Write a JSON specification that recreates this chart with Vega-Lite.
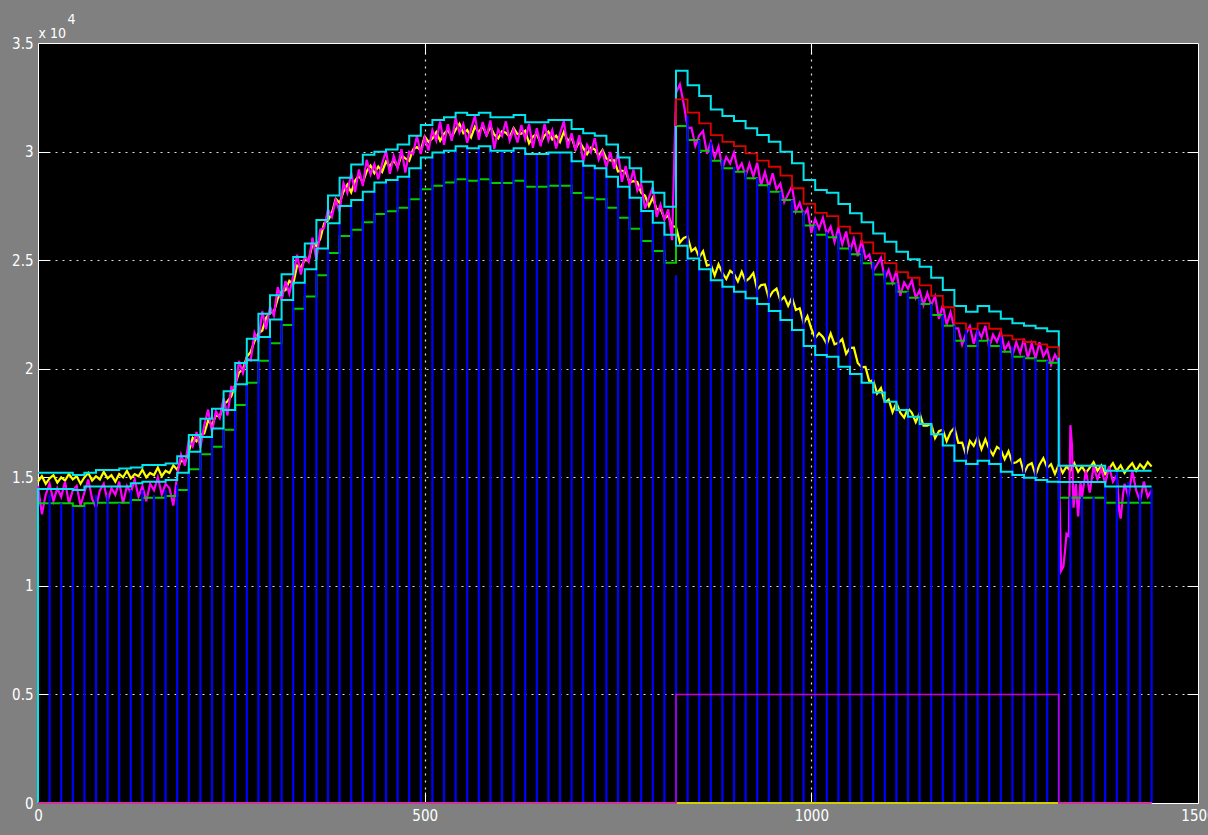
{
"$schema":"https://vega.github.io/schema/vega-lite/v6.json",
"width":1160,"height":760,
"autosize":{"type":"none"},
"padding":{"left":38,"top":43,"right":10,"bottom":32},
"background":"#808080",
"config":{"view":{"fill":"#000000","stroke":"#ffffff","strokeWidth":1},
"axis":{"labelFont":"'Liberation Sans Narrow','DejaVu Sans Condensed',sans-serif","labelFontSize":15,"labelColor":"#ffffff","titleFont":"'Liberation Sans Narrow','DejaVu Sans Condensed',sans-serif","titleFontSize":14,"titleFontWeight":"normal","titleColor":"#ffffff","tickColor":"#ffffff","gridColor":"#e0e0e0","gridDash":[2,5],"gridWidth":1.2}},
"resolve":{"axis":{"x":"independent","y":"independent"}},
"datasets":{
"steps":[
{"i":0,"t":0,"cl":0},
{"i":1,"t":0,"cu":15210,"cl":14460,"g":13800},
{"i":2,"t":15,"cu":15210,"cl":14460,"g":13800,"b":14215},
{"i":3,"t":30,"cu":15210,"cl":14460,"g":13800,"b":13800},
{"i":4,"t":45,"cu":15100,"cl":14410,"g":13680,"b":13645},
{"i":5,"t":60,"cu":15210,"cl":14570,"g":13800,"b":13645},
{"i":6,"t":75,"cu":15330,"cl":14570,"g":13830,"b":14180},
{"i":7,"t":90,"cu":15330,"cl":14570,"g":13830,"b":14180},
{"i":8,"t":105,"cu":15410,"cl":14570,"g":13830,"b":13800},
{"i":9,"t":120,"cu":15450,"cl":14720,"g":13950,"b":14410},
{"i":10,"t":135,"cu":15565,"cl":14800,"g":14060,"b":14410},
{"i":11,"t":150,"cu":15565,"cl":14800,"g":14060,"b":14180},
{"i":12,"t":165,"cu":15640,"cl":14870,"g":14140,"b":14410},
{"i":13,"t":180,"cu":15970,"cl":15210,"g":14410,"b":14640},
{"i":14,"t":195,"cu":16950,"cl":16180,"g":15370,"b":15210},
{"i":15,"t":210,"cu":17700,"cl":16850,"g":16060,"b":16180},
{"i":16,"t":225,"cu":18160,"cl":17250,"g":16410,"b":16850},
{"i":17,"t":240,"cu":18960,"cl":18100,"g":17190,"b":17250},
{"i":18,"t":255,"cu":20260,"cl":19290,"g":18330,"b":18100},
{"i":19,"t":270,"cu":21380,"cl":20390,"g":19350,"b":19290},
{"i":20,"t":285,"cu":22530,"cl":21460,"g":20370,"b":20390},
{"i":21,"t":300,"cu":23380,"cl":22270,"g":21170,"b":21460},
{"i":22,"t":315,"cu":24350,"cl":23160,"g":22010,"b":22270},
{"i":23,"t":330,"cu":25140,"cl":23960,"g":22760,"b":23160},
{"i":24,"t":345,"cu":25770,"cl":24580,"g":23330,"b":23960},
{"i":25,"t":360,"cu":26850,"cl":25540,"g":24300,"b":24580},
{"i":26,"t":375,"cu":27980,"cl":26700,"g":25330,"b":25540},
{"i":27,"t":390,"cu":28800,"cl":27490,"g":26110,"b":26700},
{"i":28,"t":405,"cu":29400,"cl":27770,"g":26400,"b":27490},
{"i":29,"t":420,"cu":29850,"cl":28150,"g":26740,"b":27770},
{"i":30,"t":435,"cu":29990,"cl":28580,"g":27130,"b":28150},
{"i":31,"t":450,"cu":30100,"cl":28690,"g":27250,"b":28580},
{"i":32,"t":465,"cu":30330,"cl":28840,"g":27410,"b":28690},
{"i":33,"t":480,"cu":30730,"cl":29230,"g":27810,"b":28840},
{"i":34,"t":495,"cu":31220,"cl":29730,"g":28270,"b":29230},
{"i":35,"t":510,"cu":31450,"cl":29960,"g":28430,"b":29730},
{"i":36,"t":525,"cu":31580,"cl":30040,"g":28570,"b":29960},
{"i":37,"t":540,"cu":31790,"cl":30250,"g":28720,"b":30040},
{"i":38,"t":555,"cu":31680,"cl":30150,"g":28660,"b":30250},
{"i":39,"t":570,"cu":31790,"cl":30250,"g":28720,"b":30150},
{"i":40,"t":585,"cu":31580,"cl":30040,"g":28550,"b":30250},
{"i":41,"t":600,"cu":31580,"cl":30040,"g":28550,"b":30040},
{"i":42,"t":615,"cu":31680,"cl":30150,"g":28660,"b":30040},
{"i":43,"t":630,"cu":31345,"cl":29890,"g":28380,"b":30150},
{"i":44,"t":645,"cu":31345,"cl":29890,"g":28380,"b":29890},
{"i":45,"t":660,"cu":31450,"cl":29960,"g":28430,"b":29890},
{"i":46,"t":675,"cu":31450,"cl":29960,"g":28430,"b":29960},
{"i":47,"t":690,"cu":31040,"cl":29560,"g":28090,"b":29960},
{"i":48,"t":705,"cu":30840,"cl":29350,"g":27870,"b":29560},
{"i":49,"t":720,"cu":30730,"cl":29230,"g":27810,"b":29350},
{"i":50,"t":735,"cu":30330,"cl":28840,"g":27410,"b":29230},
{"i":51,"t":750,"cu":29730,"cl":28380,"g":26950,"b":28840},
{"i":52,"t":765,"cu":29230,"cl":27870,"g":26450,"b":28380},
{"i":53,"t":780,"cu":28610,"cl":27260,"g":25880,"b":27870},
{"i":54,"t":795,"cu":28100,"cl":26720,"g":25420,"b":27260},
{"i":55,"t":810,"cu":27460,"cl":26170,"g":24880,"b":26720},
{"i":56,"t":825,"r":31180},
{"i":57,"t":825,"cu":33720,"cl":25660,"g":31180,"r":32400,"b":24300},
{"i":58,"t":840,"cu":33060,"cl":25080,"g":30530,"r":31790,"b":31640},
{"i":59,"t":855,"cu":32560,"cl":24580,"g":30040,"r":31300,"b":30530},
{"i":60,"t":870,"cu":31940,"cl":24070,"g":29580,"r":30760,"b":30450},
{"i":61,"t":885,"cu":31640,"cl":23780,"g":29230,"r":30450,"b":29640},
{"i":62,"t":900,"cu":31410,"cl":23550,"g":29070,"r":30250,"b":29300},
{"i":63,"t":915,"cu":31070,"cl":23240,"g":28770,"r":29920,"b":29080},
{"i":64,"t":930,"cu":30760,"cl":22980,"g":28450,"r":29580,"b":28780},
{"i":65,"t":945,"cu":30450,"cl":22660,"g":28150,"r":29300,"b":28460},
{"i":66,"t":960,"cu":29990,"cl":22240,"g":27770,"r":28890,"b":28160},
{"i":67,"t":975,"cu":29460,"cl":21780,"g":27230,"r":28310,"b":27780},
{"i":68,"t":990,"cu":28690,"cl":21050,"g":26590,"r":27590,"b":27240},
{"i":69,"t":1005,"cu":28230,"cl":20630,"g":26170,"r":27180,"b":26600},
{"i":70,"t":1020,"cu":28100,"cl":20550,"g":26060,"r":27030,"b":26310},
{"i":71,"t":1035,"cu":27590,"cl":20090,"g":25540,"r":26540,"b":26230},
{"i":72,"t":1050,"cu":27160,"cl":19760,"g":25270,"r":26230,"b":25620},
{"i":73,"t":1065,"cu":26750,"cl":19350,"g":24860,"r":25820,"b":25540},
{"i":74,"t":1080,"cu":26230,"cl":18900,"g":24340,"r":25310,"b":24900},
{"i":75,"t":1095,"cu":25850,"cl":18480,"g":23930,"r":24860,"b":24540},
{"i":76,"t":1110,"cu":25390,"cl":18100,"g":23550,"r":24450,"b":23950},
{"i":77,"t":1125,"cu":25040,"cl":17790,"g":23270,"r":24190,"b":23560},
{"i":78,"t":1140,"cu":24700,"cl":17450,"g":22980,"r":23840,"b":23280},
{"i":79,"t":1155,"cu":24190,"cl":16980,"g":22470,"r":23350,"b":22990},
{"i":80,"t":1170,"cu":23620,"cl":16460,"g":21980,"r":22830,"b":22480},
{"i":81,"t":1185,"cu":22890,"cl":15760,"g":21290,"r":22090,"b":21990},
{"i":82,"t":1200,"cu":22620,"cl":15610,"g":21050,"r":21840,"b":21780},
{"i":83,"t":1215,"cu":22890,"cl":15760,"g":21290,"r":22090,"b":21780},
{"i":84,"t":1230,"cu":22640,"cl":15610,"g":21050,"r":21840,"b":21300},
{"i":85,"t":1245,"cu":22300,"cl":15260,"g":20780,"r":21520,"b":21470},
{"i":86,"t":1260,"cu":22090,"cl":15100,"g":20550,"r":21350,"b":21010},
{"i":87,"t":1275,"cu":21980,"cl":14980,"g":20480,"r":21230,"b":20550},
{"i":88,"t":1290,"cu":21860,"cl":14870,"g":20370,"r":21120,"b":20480},
{"i":89,"t":1305,"cu":21730,"cl":14800,"g":20280,"r":20990,"b":20380},
{"i":90,"t":1320,"cu":15530,"cl":14780,"g":14060,"r":20500,"b":20600},
{"i":91,"t":1335,"cu":15530,"cl":14780,"g":14060,"b":14100},
{"i":92,"t":1350,"cu":15530,"cl":14780,"g":14060,"b":14100},
{"i":93,"t":1365,"cu":15530,"cl":14780,"g":14060,"b":14100},
{"i":94,"t":1380,"cu":15300,"cl":14580,"g":13830,"b":14700},
{"i":95,"t":1395,"cu":15300,"cl":14580,"g":13830,"b":15260},
{"i":96,"t":1410,"cu":15300,"cl":14580,"g":13830,"b":14780},
{"i":97,"t":1425,"cu":15300,"cl":14580,"g":13830,"b":14300},
{"i":98,"t":1440,"cu":15300,"cl":14580,"g":13830,"b":14500}
],
"noise":[
{"t":0,"y":14800,"m":14600},{"t":5,"y":15050,"m":13300},{"t":10,"y":14700,"m":14200},{"t":15,"y":14950,"m":14700},{"t":20,"y":15100,"m":13900},{"t":25,"y":14750,"m":14500},{"t":30,"y":15000,"m":14100},{"t":35,"y":14850,"m":14800},{"t":40,"y":15150,"m":13800},{"t":45,"y":14900,"m":14400},{"t":50,"y":15050,"m":14600},{"t":55,"y":14700,"m":13700},{"t":60,"y":15000,"m":14300},{"t":65,"y":15200,"m":14900},{"t":70,"y":14850,"m":14000},{"t":75,"y":15050,"m":13600},{"t":80,"y":14900,"m":14400},{"t":85,"y":15250,"m":14700},{"t":90,"y":14950,"m":13900},{"t":95,"y":15100,"m":14500},{"t":100,"y":14800,"m":14200},{"t":105,"y":15150,"m":14800},{"t":110,"y":15000,"m":13800},{"t":115,"y":15300,"m":14600},{"t":120,"y":14950,"m":14300},{"t":125,"y":15150,"m":14900},{"t":130,"y":15050,"m":14100},{"t":135,"y":15350,"m":14600},{"t":140,"y":15000,"m":13900},{"t":145,"y":15200,"m":14700},{"t":150,"y":15100,"m":14400},{"t":155,"y":15450,"m":15000},{"t":160,"y":15050,"m":14200},{"t":165,"y":15300,"m":14700},{"t":170,"y":15200,"m":14500},{"t":175,"y":15550,"m":13700},{"t":180,"y":15350,"m":15100},
{"t":185,"m":16040,"y":15770},{"t":190,"m":15535,"y":15695},{"t":195,"m":16698,"y":16168},{"t":200,"m":16415,"y":16825},{"t":205,"m":17082,"y":16662},{"t":210,"m":16360,"y":16950},{"t":215,"m":17395,"y":17015},{"t":220,"m":18118,"y":17618},{"t":225,"m":17070,"y":17410},{"t":230,"m":18045,"y":17855},{"t":235,"m":17730,"y":17790},{"t":240,"m":18638,"y":18358},{"t":245,"m":17850,"y":18500},{"t":250,"m":19155,"y":18735},{"t":255,"m":19063,"y":19273},{"t":260,"m":20355,"y":19835},{"t":265,"m":19805,"y":19975},{"t":270,"m":20490,"y":20550},{"t":275,"m":20385,"y":20775},{"t":280,"m":21655,"y":21265},{"t":285,"m":21240,"y":21630},{"t":290,"m":22645,"y":21755},{"t":295,"m":21822,"y":22342},{"t":300,"m":22860,"y":22590},{"t":305,"m":22445,"y":22605},{"t":310,"m":23755,"y":23225},{"t":315,"m":23140,"y":23550},{"t":320,"m":24035,"y":23615},{"t":325,"m":23460,"y":24050},{"t":330,"m":24272,"y":23892},{"t":335,"m":25250,"y":24750},{"t":340,"m":24338,"y":24678},{"t":345,"m":25202,"y":25012},{"t":350,"m":24925,"y":24985},{"t":355,"m":26035,"y":25755},{"t":360,"m":25005,"y":25655},{"t":365,"m":26405,"y":25985},{"t":370,"m":26487,"y":26697},{"t":375,"m":27348,"y":26828},{"t":380,"m":27000,"y":27170},{"t":385,"m":27768,"y":27828},{"t":390,"m":27242,"y":27632},{"t":395,"m":28545,"y":28155},{"t":400,"m":28092,"y":28482},{"t":405,"m":29015,"y":28125},{"t":410,"m":28135,"y":28655},{"t":415,"m":29173,"y":28903},{"t":420,"m":28412,"y":28572},{"t":425,"m":29620,"y":29090},{"t":430,"m":28945,"y":29355},{"t":435,"m":29422,"y":29002},{"t":440,"m":28725,"y":29315},{"t":445,"m":29442,"y":29062},{"t":450,"m":30040,"y":29540},{"t":455,"m":28975,"y":29315},{"t":460,"m":29798,"y":29608},{"t":465,"m":29240,"y":29300},{"t":470,"m":30105,"y":29825},{"t":475,"m":29037,"y":29687},{"t":480,"m":29992,"y":29572},{"t":485,"m":29890,"y":30100},{"t":490,"m":30725,"y":30205},{"t":495,"m":29888,"y":30058},{"t":500,"m":30635,"y":30695},{"t":505,"m":30052,"y":30442},{"t":510,"m":30990,"y":30600},{"t":515,"m":30505,"y":30895},{"t":520,"m":31390,"y":30500},{"t":525,"m":30308,"y":30828},{"t":530,"m":31260,"y":30990},{"t":535,"m":30500,"y":30660},{"t":540,"m":31535,"y":31005},{"t":545,"m":30870,"y":31280},{"t":550,"m":31265,"y":30845},{"t":555,"m":30408,"y":30998},{"t":560,"m":31035,"y":30655},{"t":565,"m":31650,"y":31150},{"t":570,"m":30548,"y":30888},{"t":575,"m":31360,"y":31170},{"t":580,"m":30700,"y":30760},{"t":585,"m":31435,"y":31155},{"t":590,"m":30130,"y":30780},{"t":595,"m":31020,"y":30600},{"t":600,"m":30720,"y":30930},{"t":605,"m":31390,"y":30870},{"t":610,"m":30505,"y":30675},{"t":615,"m":31022,"y":31082},{"t":620,"m":30415,"y":30805},{"t":625,"m":31217,"y":30827},{"t":630,"m":30568,"y":30958},{"t":635,"m":31270,"y":30380},{"t":640,"m":30170,"y":30690},{"t":645,"m":31070,"y":30800},{"t":650,"m":30240,"y":30400},{"t":655,"m":31268,"y":30738},{"t":660,"m":30512,"y":30922},{"t":665,"m":30985,"y":30565},{"t":670,"m":30145,"y":30735},{"t":675,"m":30825,"y":30445},{"t":680,"m":31405,"y":30905},{"t":685,"m":30150,"y":30490},{"t":690,"m":30842,"y":30652},{"t":695,"m":30050,"y":30110},{"t":700,"m":30752,"y":30472},{"t":705,"m":29518,"y":30168},{"t":710,"m":30305,"y":29885},{"t":715,"m":29967,"y":30177},{"t":720,"m":30618,"y":30098},{"t":725,"m":29640,"y":29810},{"t":730,"m":30008,"y":30068},{"t":735,"m":29282,"y":29672},{"t":740,"m":29985,"y":29595},{"t":745,"m":29208,"y":29598},{"t":750,"m":29970,"y":29080},{"t":755,"m":28605,"y":29125},{"t":760,"m":29337,"y":29067},{"t":765,"m":28422,"y":28582},{"t":770,"m":29170,"y":28640},{"t":775,"m":28195,"y":28605},{"t":780,"m":28522,"y":28102},{"t":785,"m":27375,"y":27965},{"t":790,"m":27880,"y":27500},{"t":795,"m":28372,"y":27872},{"t":800,"m":26990,"y":27330},{"t":805,"m":27552,"y":27362},{"t":810,"m":26862,"y":26922},{"t":815,"m":27335,"y":27055},{"t":820,"m":25920,"y":26570},
{"t":825,"m":32700,"y":26530},{"t":830,"m":33100,"y":25810},{"t":835,"m":32200,"y":26020},{"t":840,"m":31080,"y":26090},{"t":845,"m":31100,"y":25420},{"t":850,"m":30267,"y":25560},{"t":855,"m":30735,"y":25130},{"t":860,"m":30950,"y":25410},{"t":865,"m":29897,"y":24750},{"t":870,"m":30430,"y":24800},{"t":875,"m":29730,"y":24300},{"t":880,"m":30233,"y":24810},{"t":885,"m":29215,"y":24410},{"t":890,"m":29750,"y":24130},{"t":895,"m":29457,"y":24510},{"t":900,"m":29960,"y":24370},{"t":905,"m":29150,"y":24020},{"t":910,"m":29450,"y":24470},{"t":915,"m":28870,"y":24020},{"t":920,"m":29440,"y":24170},{"t":925,"m":28853,"y":24410},{"t":930,"m":29480,"y":23640},{"t":935,"m":28440,"y":23850},{"t":940,"m":29060,"y":23880},{"t":945,"m":28350,"y":23250},{"t":950,"m":29000,"y":23550},{"t":955,"m":28253,"y":23690},{"t":960,"m":28530,"y":23130},{"t":965,"m":27670,"y":23310},{"t":970,"m":28040,"y":22900},{"t":975,"m":28410,"y":23280},{"t":980,"m":27240,"y":22700},{"t":985,"m":27637,"y":22780},{"t":990,"m":27060,"y":22090},{"t":995,"m":27360,"y":22420},{"t":1000,"m":26260,"y":21840},{"t":1005,"m":26900,"y":21410},{"t":1010,"m":26450,"y":21640},{"t":1015,"m":26943,"y":21460},{"t":1020,"m":26195,"y":21130},{"t":1025,"m":26540,"y":21620},{"t":1030,"m":25837,"y":21120},{"t":1035,"m":26470,"y":21190},{"t":1040,"m":25730,"y":21360},{"t":1045,"m":26320,"y":20690},{"t":1050,"m":25395,"y":20960},{"t":1055,"m":25980,"y":20970},{"t":1060,"m":25183,"y":20260},{"t":1065,"m":25915,"y":20070},{"t":1070,"m":25090,"y":20080},{"t":1075,"m":25257,"y":19410},{"t":1080,"m":24500,"y":19470},{"t":1085,"m":24790,"y":18860},{"t":1090,"m":25113,"y":19110},{"t":1095,"m":24145,"y":18440},{"t":1100,"m":24550,"y":18580},{"t":1105,"m":23953,"y":18000},{"t":1110,"m":24510,"y":18430},{"t":1115,"m":23360,"y":17980},{"t":1120,"m":23977,"y":17750},{"t":1125,"m":23690,"y":18180},{"t":1130,"m":24080,"y":17970},{"t":1135,"m":23253,"y":17540},{"t":1140,"m":23605,"y":17950},{"t":1145,"m":22930,"y":17380},{"t":1150,"m":23480,"y":17380},{"t":1155,"m":22915,"y":17460},{"t":1160,"m":23340,"y":16800},{"t":1165,"m":22297,"y":17120},{"t":1170,"m":22935,"y":17190},{"t":1175,"m":22030,"y":16660},{"t":1180,"m":22600,"y":17070},{"t":1185,"m":21865,"y":17290},{"t":1190,"m":21860,"y":16590},{"t":1195,"m":21110,"y":16600},{"t":1200,"m":21620,"y":16020},{"t":1205,"m":21960,"y":16680},{"t":1210,"m":21140,"y":16450},{"t":1215,"m":21790,"y":16840},{"t":1220,"m":21440,"y":16290},{"t":1225,"m":21980,"y":16750},{"t":1230,"m":20980,"y":16300},{"t":1235,"m":21570,"y":16020},{"t":1240,"m":21240,"y":16400},{"t":1245,"m":21725,"y":16270},{"t":1250,"m":20860,"y":15830},{"t":1255,"m":21183,"y":16200},{"t":1260,"m":20615,"y":15640},{"t":1265,"m":21220,"y":15690},{"t":1270,"m":20717,"y":15830},{"t":1275,"m":21385,"y":15190},{"t":1280,"m":20470,"y":15550},{"t":1285,"m":21153,"y":15650},{"t":1290,"m":20475,"y":15100},{"t":1295,"m":21220,"y":15580},{"t":1300,"m":20570,"y":15880},{"t":1305,"m":20895,"y":15430},{"t":1310,"m":20180,"y":15600},{"t":1315,"m":20650,"y":15160},
{"t":1320,"m":20300,"y":15600},{"t":1321,"m":14000},{"t":1323,"m":10700},{"t":1325,"y":15200},{"t":1326,"m":10900},{"t":1328,"m":11600},{"t":1330,"m":12400,"y":15500},{"t":1333,"m":12300},{"t":1335,"m":17400,"y":15300},{"t":1337,"m":16500},{"t":1339,"m":13600},{"t":1340,"y":15650},{"t":1342,"m":14700},{"t":1345,"m":13200,"y":15250},{"t":1348,"m":14800},{"t":1350,"m":14100,"y":15500},{"t":1355,"m":15300,"y":15200},{"t":1360,"m":14300,"y":15450},{"t":1365,"m":15500,"y":15700},{"t":1370,"m":14900,"y":15300},{"t":1375,"m":15400,"y":15550},{"t":1380,"m":14700,"y":15150},{"t":1385,"m":15500,"y":15400},{"t":1390,"m":14800,"y":15650},{"t":1395,"m":15100,"y":15300},{"t":1398,"m":13500},{"t":1400,"m":13100,"y":15550},{"t":1403,"m":14200},{"t":1405,"m":14700,"y":15200},{"t":1410,"m":14100,"y":15450},{"t":1415,"m":15300,"y":15650},{"t":1420,"m":14400,"y":15300},{"t":1425,"m":13900,"y":15600},{"t":1430,"m":14800,"y":15400},{"t":1435,"m":14100,"y":15700},{"t":1440,"m":14400,"y":15500}
],
"pulse":[
{"i":0,"t":0,"p":0,"z":0},{"i":1,"t":825,"p":0},{"i":2,"t":825,"p":5000},{"i":3,"t":1320,"p":5000},{"i":4,"t":1320,"p":0},{"i":5,"t":1440,"p":0,"z":0}
]},
"layer":[
{"data":{"name":"noise"},"transform":[{"filter":"isValid(datum.y)"}],
 "mark":{"type":"line","color":"#ffff00","strokeWidth":2.2},
 "encoding":{
  "x":{"field":"t","type":"quantitative","scale":{"domain":[0,1500],"nice":false,"zero":false},
   "axis":{"orient":"bottom","values":[0,500,1000,1500],"format":"d","grid":false,"domain":false,"tickSize":-11,"labelPadding":16,"title":null,"labelFlush":false}},
  "y":{"field":"y","type":"quantitative","scale":{"domain":[0,35000],"nice":false},
   "axis":{"orient":"left","values":[0,5000,10000,15000,20000,25000,30000,35000],"labelExpr":"datum.value/10000","grid":false,"domain":false,"tickSize":-11,"labelPadding":16,"title":"x 10","titleAngle":0,"titleX":0,"titleY":-6,"titleAlign":"left","titleBaseline":"alphabetic"}}}},
{"data":{"name":"noise"},"transform":[{"filter":"isValid(datum.m)"}],
 "mark":{"type":"line","color":"#ff00ff","strokeWidth":2.2},
 "encoding":{
  "x":{"field":"t","type":"quantitative","axis":{"orient":"top","values":[500,1000],"grid":true,"labels":false,"domain":false,"tickSize":-11,"title":"4","titleAngle":0,"titleX":29,"titleY":-20,"titleAlign":"left","titleBaseline":"alphabetic"}},
  "y":{"field":"m","type":"quantitative","axis":{"orient":"right","values":[5000,10000,15000,20000,25000,30000],"grid":true,"labels":false,"domain":false,"tickSize":-11,"title":null}}}},
{"data":{"name":"steps"},"transform":[{"filter":"isValid(datum.g)"}],
 "mark":{"type":"line","color":"#00cc00","strokeWidth":2,"interpolate":"step-after"},
 "encoding":{"x":{"field":"t","type":"quantitative","axis":null},"y":{"field":"g","type":"quantitative","axis":null},"order":{"field":"i","type":"quantitative"}}},
{"data":{"name":"steps"},"transform":[{"filter":"isValid(datum.b)"}],
 "mark":{"type":"rule","color":"#0000ff","strokeWidth":2.2},
 "encoding":{"x":{"field":"t","type":"quantitative","axis":null},"y":{"field":"b","type":"quantitative","axis":null},"y2":{"datum":0}}},
{"data":{"name":"steps"},"transform":[{"filter":"isValid(datum.cl)"}],
 "mark":{"type":"line","color":"#00e5ee","strokeWidth":2,"interpolate":"step-after"},
 "encoding":{"x":{"field":"t","type":"quantitative","axis":null},"y":{"field":"cl","type":"quantitative","axis":null},"order":{"field":"i","type":"quantitative"}}},
{"data":{"name":"steps"},"transform":[{"filter":"isValid(datum.cu)"}],
 "mark":{"type":"line","color":"#00e5ee","strokeWidth":2,"interpolate":"step-after"},
 "encoding":{"x":{"field":"t","type":"quantitative","axis":null},"y":{"field":"cu","type":"quantitative","axis":null},"order":{"field":"i","type":"quantitative"}}},
{"data":{"name":"steps"},"transform":[{"filter":"isValid(datum.r)"}],
 "mark":{"type":"line","color":"#e00000","strokeWidth":1.8,"interpolate":"step-after"},
 "encoding":{"x":{"field":"t","type":"quantitative","axis":null},"y":{"field":"r","type":"quantitative","axis":null},"order":{"field":"i","type":"quantitative"}}},
{"data":{"name":"pulse"},"transform":[{"filter":"isValid(datum.z)"}],
 "mark":{"type":"line","color":"#d0d000","strokeWidth":2},
 "encoding":{"x":{"field":"t","type":"quantitative","axis":null},"y":{"field":"z","type":"quantitative","axis":null}}},
{"data":{"name":"pulse"},
 "mark":{"type":"line","color":"#cc00cc","strokeWidth":1.5},
 "encoding":{"x":{"field":"t","type":"quantitative","axis":null},"y":{"field":"p","type":"quantitative","axis":null},"order":{"field":"i","type":"quantitative"}}}
]
}
